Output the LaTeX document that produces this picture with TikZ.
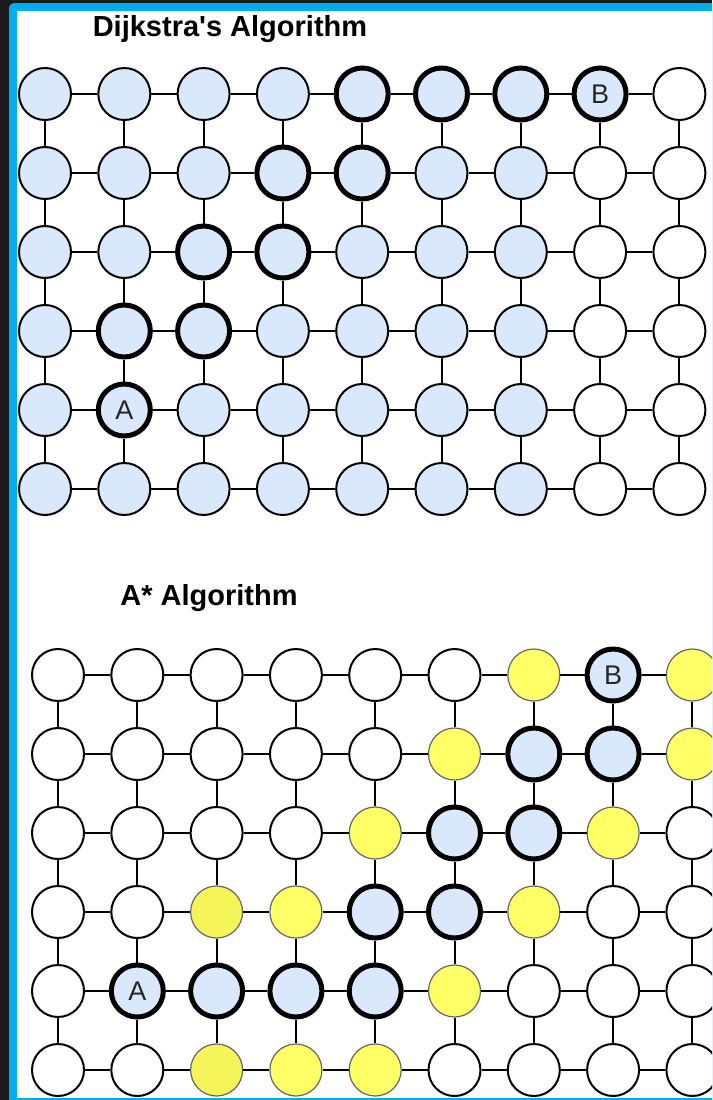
\documentclass[tikz,border=0pt]{standalone}
\usepackage{fontspec}
\setmainfont{Liberation Sans}
\usepackage{tikz}
\usetikzlibrary{positioning}

\definecolor{seenblue}{HTML}{DAE8FC}
\definecolor{frontyellow}{HTML}{FFFF66}
\definecolor{frontyellowb}{HTML}{F5F55A}
\definecolor{framecyan}{HTML}{00AEEF}
\definecolor{framedark}{HTML}{1B1B1B}

\begin{document}
\begin{tikzpicture}[x=1pt,y=-1pt]
	\tikzstyle{open} = [circle, minimum size=52pt, draw, line width=2pt, inner sep=0pt, fill=white];
	\tikzstyle{seen} = [open, fill=seenblue];
	\tikzstyle{route} = [seen, line width=5pt];
	\tikzstyle{front} = [open, fill=frontyellow, draw=black!60, line width=1.2pt];
	\tikzstyle{frontb} = [front, fill=frontyellowb];
	\tikzstyle{title} = [font=\fontsize{29}{34}\selectfont\bfseries, anchor=base];
	\tikzstyle{letter} = [font=\fontsize{27}{30}\selectfont, text=black!85];
	\tikzstyle{link} = [line width=2pt];
	
	\useasboundingbox (0,0) rectangle (712,1100);
	\clip (0,0) rectangle (712,1100);
	
	% frame
	\fill[framedark] (0,0) rectangle (712,1100);
	\fill[framecyan, rounded corners=5pt] (9,3) rectangle (740,1130);
	\fill[white] (17,11) rectangle (712,1098);
	
	\node[title] (dtitle) at (230,36) {Dijkstra\textquotesingle s Algorithm};
	\node[title] (atitle) at (209,605) {A* Algorithm};
	
	% Dijkstra grid
	\foreach \r/\states in {0/{seen,seen,seen,seen,route,route,route,route,open},
		1/{seen,seen,seen,route,route,seen,seen,open,open},
		2/{seen,seen,route,route,seen,seen,seen,open,open},
		3/{seen,route,route,seen,seen,seen,seen,open,open},
		4/{seen,route,seen,seen,seen,seen,seen,open,open},
		5/{seen,seen,seen,seen,seen,seen,seen,open,open}}
		\foreach \s [count=\col from 0] in \states
			\node[\s] (d-\col-\r) at (45+79.3*\col, 94+79*\r) {};
	
	\foreach \r in {0,...,5}{
		\foreach \col in {0,...,7}{
			\pgfmathtruncatemacro{\nxt}{\col+1}
			\draw[link] (d-\col-\r) -- (d-\nxt-\r);
		}
	}
	\foreach \r in {0,...,4}{
		\pgfmathtruncatemacro{\nxt}{\r+1}
		\foreach \col in {0,...,8}
			\draw[link] (d-\col-\r) -- (d-\col-\nxt);
	}
	
	\node[letter] (dA) at (d-1-4) {A};
	\node[letter] (dB) at (d-7-0) {B};
	
	% A* grid
	\foreach \r/\states in {0/{open,open,open,open,open,open,front,route,front},
		1/{open,open,open,open,open,front,route,route,front},
		2/{open,open,open,open,front,route,route,front,open},
		3/{open,open,frontb,front,route,route,front,open,open},
		4/{open,route,route,route,route,front,open,open,open},
		5/{open,open,frontb,front,front,open,open,open,open}}
		\foreach \s [count=\col from 0] in \states
			\node[\s] (a-\col-\r) at (58+79.3*\col, 675+79*\r) {};
	
	\foreach \r in {0,...,5}{
		\foreach \col in {0,...,7}{
			\pgfmathtruncatemacro{\nxt}{\col+1}
			\draw[link] (a-\col-\r) -- (a-\nxt-\r);
		}
	}
	\foreach \r in {0,...,4}{
		\pgfmathtruncatemacro{\nxt}{\r+1}
		\foreach \col in {0,...,8}
			\draw[link] (a-\col-\r) -- (a-\col-\nxt);
	}
	
	\node[letter] (aA) at (a-1-4) {A};
	\node[letter] (aB) at (a-7-0) {B};
\end{tikzpicture}
\end{document}
